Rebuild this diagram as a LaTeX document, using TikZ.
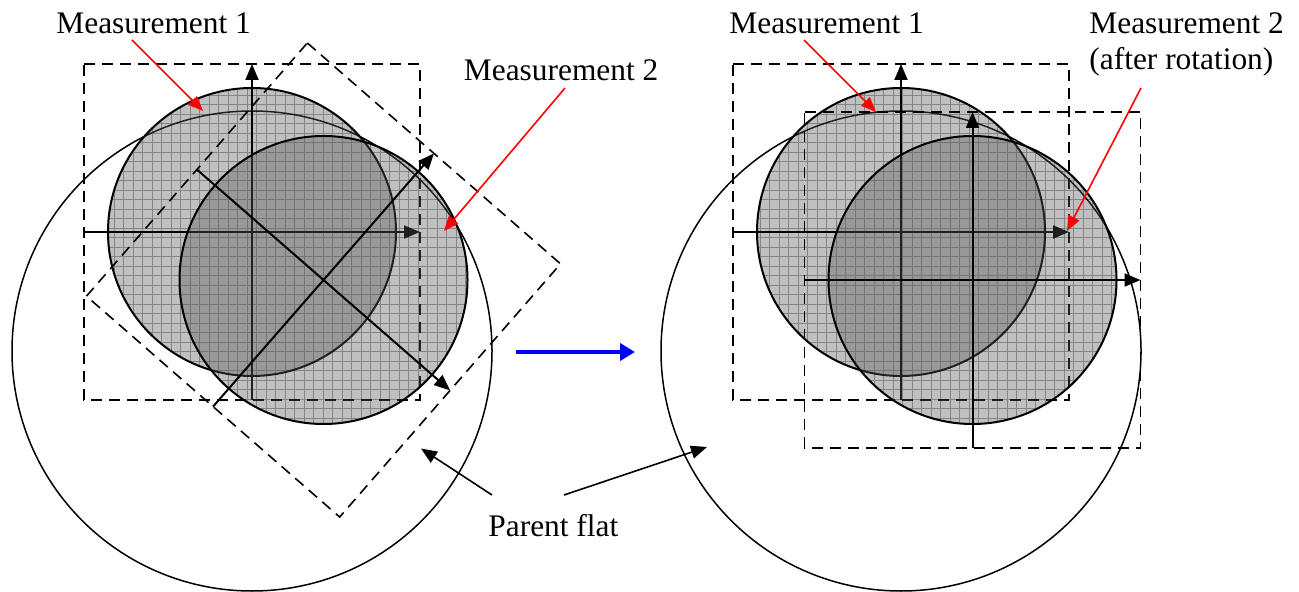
\documentclass[tikz,border=0pt]{standalone}
\usepackage{fontspec}
\setmainfont{Liberation Serif}
\usetikzlibrary{arrows.meta,calc}
\tikzset{
  parentc/.style={draw=black, line width=0.75pt},
  measfill/.style={fill=black!65, fill opacity=0.38},
  gridl/.style={draw=black, draw opacity=0.3, line width=0.45pt, xstep=4.75pt, ystep=4.75pt},
  diskline/.style={draw=black, line width=1pt},
  sq/.style={draw=black, line width=0.8pt, dash pattern=on 5.5pt off 3.5pt},
  axis/.style={draw=black, line width=1pt, -{Triangle[length=8pt,width=6.5pt]}},
  redarrow/.style={draw=red, line width=0.8pt, -{Triangle[length=7.5pt,width=6pt]}},
  bluearrow/.style={draw=blue, line width=2pt, -{Triangle[length=7.5pt,width=8.5pt]}},
  blackarrow/.style={draw=black, line width=0.8pt, -{Triangle[length=8pt,width=6.5pt]}},
  lbl/.style={inner sep=0pt, anchor=base west, font=\fontsize{15.7}{18}\selectfont}
}
% first disk: fill + grid
\newcommand\measdiskA[1]{%
  \begin{scope}
    \clip (#1) circle[radius=144];
    \fill[measfill] (#1) circle[radius=144];
    \draw[gridl] ($(#1)+(-150,-150)$) grid ($(#1)+(150,150)$);
  \end{scope}
  \draw[diskline] (#1) circle[radius=144];
}
% second disk: fill, grid only outside the first disk #2
\newcommand\measdiskB[2]{%
  \begin{scope}
    \clip (#1) circle[radius=144];
    \fill[measfill] (#1) circle[radius=144];
    \begin{scope}[even odd rule]
      \clip ($(#1)+(-160,-160)$) rectangle ($(#1)+(160,160)$) (#2) circle[radius=144];
      \draw[gridl] ($(#1)+(-150,-150)$) grid ($(#1)+(150,150)$);
    \end{scope}
  \end{scope}
  \draw[diskline] (#1) circle[radius=144];
}
\newcommand\measframe[3]{%
  \begin{scope}[shift={(#2)}, rotate=#3]
    \coordinate (#1nw) at (-168,-168);
    \coordinate (#1ne) at (168,-168);
    \coordinate (#1se) at (168,168);
    \coordinate (#1sw) at (-168,168);
    \coordinate (#1w) at (-168,0);
    \coordinate (#1e) at (168,0);
    \coordinate (#1s) at (0,168);
    \coordinate (#1n) at (0,-168);
  \end{scope}
  \draw[sq] (#1nw) -- (#1ne) -- (#1se) -- (#1sw) -- cycle;
  \draw[axis] (#1w) -- (#1e);
  \draw[axis] (#1s) -- (#1n);
}
\begin{document}
\begin{tikzpicture}[x=0.5pt, y=-0.5pt]
\useasboundingbox (0,0) rectangle (1299,592);

% centres
\coordinate (pL) at (252,351);
\coordinate (m1L) at (252,232);
\coordinate (m2L) at (323.5,280);
\coordinate (pR) at (901,351);
\coordinate (m1R) at (901,232);
\coordinate (m2R) at (972.5,280);

% ---------- left panel ----------
\draw[parentc] (pL) circle[radius=240];
\measdiskA{m1L}
\measframe{fa}{m1L}{0}
\measdiskB{m2L}{m1L}
\measframe{fb}{m2L}{-41.1}

% ---------- right panel ----------
\draw[parentc] (pR) circle[radius=240];
\measdiskA{m1R}
\measframe{fc}{m1R}{0}
\measdiskB{m2R}{m1R}
\measframe{fd}{m2R}{0}

% ---------- labels ----------
\node[lbl] (t1) at (56,33.5) {Measurement 1};
\node[lbl] (t2) at (463.5,80.5) {Measurement 2};
\node[lbl] (t3) at (729,33.5) {Measurement 1};
\node[lbl] (t4) at (1089,33.5) {Measurement 2};
\node[lbl] (t5) at (1089,69.5) {(after rotation)};
\node[lbl] (t6) at (488,536) {Parent flat};

% ---------- arrow ends ----------
\coordinate (r1a) at (132,40);   \coordinate (r1b) at (203,111);
\coordinate (r2a) at (565,88);   \coordinate (r2b) at (444,231);
\coordinate (r3a) at (804,40);   \coordinate (r3b) at (876,112);
\coordinate (r4a) at (1141,88);  \coordinate (r4b) at (1067,231);
\coordinate (ba) at (516,352);   \coordinate (bb) at (635,352);
\coordinate (k1a) at (492,495);  \coordinate (k1b) at (421,448.5);
\coordinate (k2a) at (564,495);  \coordinate (k2b) at (707,447);

\draw[redarrow] (r1a) -- (r1b);
\draw[redarrow] (r2a) -- (r2b);
\draw[redarrow] (r3a) -- (r3b);
\draw[redarrow] (r4a) -- (r4b);
\draw[bluearrow] (ba) -- (bb);
\draw[blackarrow] (k1a) -- (k1b);
\draw[blackarrow] (k2a) -- (k2b);
\end{tikzpicture}
\end{document}
